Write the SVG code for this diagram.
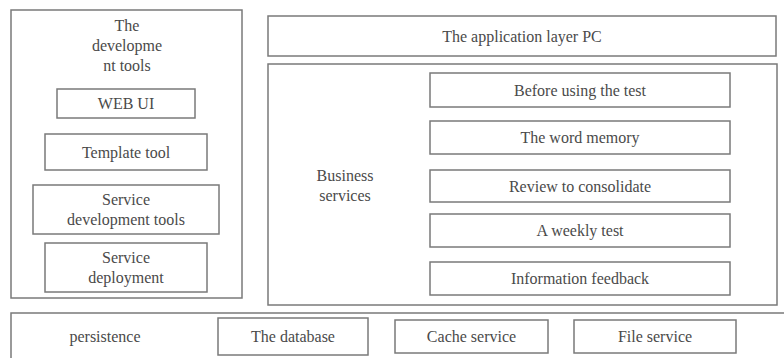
<svg xmlns="http://www.w3.org/2000/svg" width="784" height="358" viewBox="0 0 784 358">
  <style>
    rect { fill: #ffffff; stroke: #7a7a7a; stroke-width: 1.5; }
    text { font-family: "Liberation Serif", "DejaVu Serif", "Times New Roman", serif; font-size: 16px; fill: #4a4a4a; text-anchor: middle; dominant-baseline: central; }
  </style>
  <rect x="0" y="0" width="784" height="358" style="stroke:none"/>

  <!-- development tools column -->
  <g id="dev-tools">
    <rect x="11" y="10" width="231" height="288"/>
    <text x="127" y="25">The</text>
    <text x="127" y="45">developme</text>
    <text x="127" y="65">nt tools</text>
  </g>
  <g id="web-ui">
    <rect x="57" y="89" width="138" height="29"/>
    <text x="126" y="103.5">WEB UI</text>
  </g>
  <g id="template-tool">
    <rect x="45" y="134" width="162" height="36"/>
    <text x="126" y="152">Template tool</text>
  </g>
  <g id="service-dev-tools">
    <rect x="33" y="185" width="186" height="49"/>
    <text x="126" y="199">Service</text>
    <text x="126" y="219">development tools</text>
  </g>
  <g id="service-deployment">
    <rect x="45" y="243" width="162" height="49"/>
    <text x="126" y="257">Service</text>
    <text x="126" y="277">deployment</text>
  </g>

  <!-- application layer -->
  <g id="app-layer">
    <rect x="268" y="16" width="508" height="40"/>
    <text x="522" y="36">The application layer PC</text>
  </g>

  <!-- business services -->
  <g id="business-services">
    <rect x="268" y="64" width="509" height="241"/>
    <text x="345" y="175">Business</text>
    <text x="345" y="195">services</text>
  </g>
  <g id="before-test">
    <rect x="430" y="73" width="300" height="34"/>
    <text x="580" y="90">Before using the test</text>
  </g>
  <g id="word-memory">
    <rect x="430" y="121" width="300" height="33"/>
    <text x="580" y="137.5">The word memory</text>
  </g>
  <g id="review">
    <rect x="430" y="170" width="300" height="32"/>
    <text x="580" y="186">Review to consolidate</text>
  </g>
  <g id="weekly-test">
    <rect x="430" y="214" width="300" height="33"/>
    <text x="580" y="230.5">A weekly test</text>
  </g>
  <g id="feedback">
    <rect x="430" y="262" width="300" height="33"/>
    <text x="580" y="278.5">Information feedback</text>
  </g>

  <!-- persistence layer -->
  <g id="persistence">
    <rect x="11" y="313" width="780" height="60"/>
    <text x="105" y="336">persistence</text>
  </g>
  <g id="database">
    <rect x="218" y="318" width="150" height="37"/>
    <text x="293" y="336">The database</text>
  </g>
  <g id="cache-service">
    <rect x="395" y="320" width="153" height="33"/>
    <text x="471.5" y="336">Cache service</text>
  </g>
  <g id="file-service">
    <rect x="574" y="320" width="162" height="33"/>
    <text x="655" y="336">File service</text>
  </g>

  <g id="connectors"></g>
</svg>
